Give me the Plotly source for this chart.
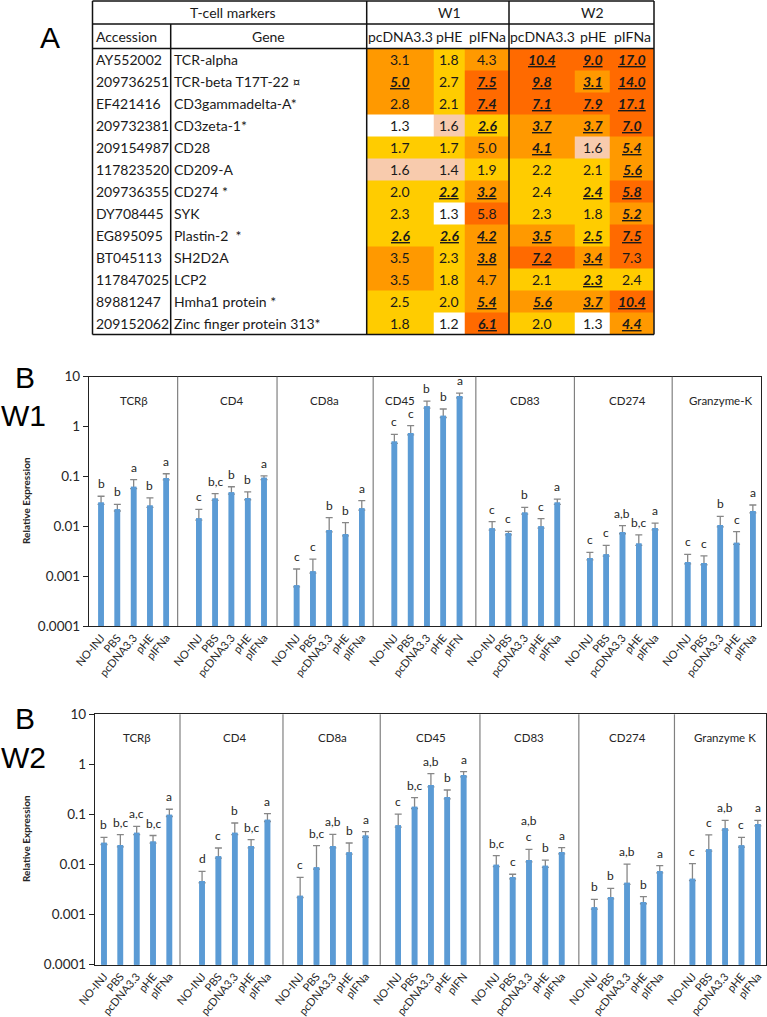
import numpy as np
import plotly.graph_objects as go

W, H = 767, 1017

# ---------------- Panel A : table data ----------------
accessions = ["AY552002", "209736251", "EF421416", "209732381", "209154987", "117823520",
              "209736355", "DY708445", "EG895095", "BT045113", "117847025", "89881247", "209152062"]
genes = ["TCR-alpha", "TCR-beta T17T-22 \u00a4", "CD3gammadelta-A*", "CD3zeta-1*", "CD28", "CD209-A",
         "CD274 *", "SYK", "Plastin-2\u00a0 *", "SH2D2A", "LCP2", "Hmha1 protein *", "Zinc finger protein 313*"]
table_treatments = ["pcDNA3.3", "pHE", "pIFNa", "pcDNA3.3", "pHE", "pIFNa"]
table_weeks = ["W1", "W2"]

w1_pcdna = [3.1, 5.0, 2.8, 1.3, 1.7, 1.6, 2.0, 2.3, 2.6, 3.5, 3.5, 2.5, 1.8]
w1_phe = [1.8, 2.7, 2.1, 1.6, 1.7, 1.4, 2.2, 1.3, 2.6, 2.3, 1.8, 2.0, 1.2]
w1_pifna = [4.3, 7.5, 7.4, 2.6, 5.0, 1.9, 3.2, 5.8, 4.2, 3.8, 4.7, 5.4, 6.1]
w2_pcdna = [10.4, 9.8, 7.1, 3.7, 4.1, 2.2, 2.4, 2.3, 3.5, 7.2, 2.1, 5.6, 2.0]
w2_phe = [9.0, 3.1, 7.9, 3.7, 1.6, 2.1, 2.4, 1.8, 2.5, 3.4, 2.3, 3.7, 1.3]
w2_pifna = [17.0, 14.0, 17.1, 7.0, 5.4, 5.6, 5.8, 5.2, 7.5, 7.3, 2.4, 10.4, 4.4]

# significance flags (bold / italic / underlined in the table)
w1_pcdna_sig = [0, 1, 0, 0, 0, 0, 0, 0, 1, 0, 0, 0, 0]
w1_phe_sig = [0, 0, 0, 0, 0, 0, 1, 0, 1, 0, 0, 0, 0]
w1_pifna_sig = [0, 1, 1, 1, 0, 0, 1, 0, 1, 1, 0, 1, 1]
w2_pcdna_sig = [1, 1, 1, 1, 1, 0, 0, 0, 1, 1, 0, 1, 0]
w2_phe_sig = [1, 1, 1, 1, 0, 0, 1, 0, 1, 1, 1, 1, 0]
w2_pifna_sig = [1, 1, 1, 1, 1, 1, 1, 1, 1, 0, 0, 1, 1]

# ---------------- Panel B : qPCR data ----------------
treatments = ["NO-INJ", "PBS", "pcDNA3.3", "pHE", "pIFNa"]
treatments_cd45 = ["NO-INJ", "PBS", "pcDNA3.3", "pHE", "pIFN"]
genes_w1 = ["TCR\u03b2", "CD4", "CD8a", "CD45", "CD83", "CD274", "Granzyme-K"]
genes_w2 = ["TCR\u03b2", "CD4", "CD8a", "CD45", "CD83", "CD274", "Granzyme K"]

w1_mean = [
    [0.030, 0.022, 0.062, 0.026, 0.093],
    [0.0145, 0.036, 0.048, 0.037, 0.094],
    [0.00066, 0.00125, 0.0084, 0.0070, 0.0229],
    [0.50, 0.74, 2.54, 1.65, 4.1],
    [0.0091, 0.0073, 0.019, 0.010, 0.030],
    [0.00231, 0.00274, 0.0077, 0.0045, 0.0092],
    [0.00192, 0.00184, 0.0106, 0.0047, 0.0202],
]
w1_err = [
    [0.010, 0.0055, 0.024, 0.011, 0.020],
    [0.0073, 0.009, 0.014, 0.012, 0.009],
    [0.00073, 0.00095, 0.0065, 0.0048, 0.0097],
    [0.20, 0.30, 0.71, 0.60, 0.6],
    [0.0033, 0.0006, 0.005, 0.0042, 0.005],
    [0.0007, 0.0014, 0.0026, 0.0022, 0.0024],
    [0.0008, 0.0007, 0.0052, 0.0031, 0.0065],
]
w1_letters = [
    ["b", "b", "a", "b", "a"],
    ["c", "b,c", "b", "b", "a"],
    ["c", "c", "b", "b", "a"],
    ["c", "c", "b", "b", "a"],
    ["c", "c", "b", "c", "a"],
    ["c", "c", "a,b", "b,c", "a"],
    ["c", "c", "b", "c", "a"],
]

w2_mean = [
    [0.0273, 0.0246, 0.0432, 0.029, 0.099],
    [0.0047, 0.0146, 0.0432, 0.0234, 0.0787],
    [0.00239, 0.0088, 0.0234, 0.0175, 0.0378],
    [0.0607, 0.143, 0.388, 0.223, 0.614],
    [0.0099, 0.00564, 0.0123, 0.0095, 0.0178],
    [0.0014, 0.00225, 0.00435, 0.00179, 0.0074],
    [0.0052, 0.0201, 0.0528, 0.0242, 0.0646],
]
w2_err = [
    [0.0076, 0.0149, 0.0148, 0.009, 0.028],
    [0.0026, 0.0068, 0.0243, 0.008, 0.0253],
    [0.00316, 0.015, 0.0166, 0.0094, 0.0075],
    [0.041, 0.074, 0.265, 0.085, 0.102],
    [0.0051, 0.00076, 0.0078, 0.0028, 0.0039],
    [0.00062, 0.0011, 0.00585, 0.00049, 0.0021],
    [0.0052, 0.0189, 0.0235, 0.0107, 0.0117],
]
w2_letters = [
    ["b", "b,c", "a,c", "b,c", "a"],
    ["d", "c", "b", "b,c", "a"],
    ["c", "b,c", "a,b", "b", "a"],
    ["c", "b,c", "a,b", "b", "a"],
    ["b,c", "c", "a,b<br>c", "b", "a"],
    ["b", "b", "a,b", "b", "a"],
    ["c", "c", "a,b", "c", "a"],
]

ytick_vals = [10, 1, 0.1, 0.01, 0.001, 0.0001]
ytick_text = ["10", "1", "0.1", "0.01", "0.001", "0.0001"]

# ---------------- styling ----------------
FONT = "Lato"
BAR_COLOR = "#5B9BD5"
ERR_COLOR = "#878787"
TXT = "#262626"

fig = go.Figure()
annotations = []
shapes = []


def add_chart(xa, ya, genes_list, means, errs, letters, dividers, title_shift):
    xref = xa
    yref = ya
    xs, ys, es, em, tv, tt = [], [], [], [], [], []
    for g, gname in enumerate(genes_list):
        names = treatments_cd45 if gname == "CD45" else treatments
        for t in range(5):
            pos = g * 6 + t
            xs.append(pos)
            ys.append(means[g][t])
            es.append(errs[g][t])
            em.append(means[g][t] * 0.08)
            tv.append(pos)
            tt.append(names[t])
            top = means[g][t] + errs[g][t]
            annotations.append(dict(
                x=pos, y=np.log10(top), xref=xref, yref=yref, text=letters[g][t],
                showarrow=False, yanchor="bottom", yshift=3,
                font=dict(family=FONT, size=12, color=TXT)))
        annotations.append(dict(
            x=g * 6 + 2 + title_shift[g], y=0.94, xref=xref, yref=yref + " domain", text=gname,
            showarrow=False, font=dict(family=FONT, size=11.5, color=TXT)))
    # bars carrying upward error bars
    fig.add_trace(go.Bar(
        x=xs, y=ys, width=0.34, marker=dict(color=BAR_COLOR, line=dict(width=0)),
        error_y=dict(type="data", symmetric=False, array=es, arrayminus=em,
                     color=ERR_COLOR, thickness=1.3, width=3.5),
        xaxis=xa, yaxis=ya, hoverinfo="skip", showlegend=False))
    # same bars again to hide the lower end of the error bars
    fig.add_trace(go.Bar(
        x=xs, y=ys, width=0.34, marker=dict(color=BAR_COLOR, line=dict(width=0)),
        xaxis=xa, yaxis=ya, hoverinfo="skip", showlegend=False))
    for d in dividers:
        shapes.append(dict(type="line", xref=xref, yref=yref + " domain",
                           x0=d, x1=d, y0=0, y1=1,
                           line=dict(color="#808080", width=1.2)))
    return tv, tt


tv1, tt1 = add_chart("x", "y", genes_w1, w1_mean, w1_err, w1_letters,
                     [4.7, 10.8, 16.7, 23.0, 29.05, 35.05],
                     [0, 0, -0.3, -1.65, 0, 0.3, 0])
tv2, tt2 = add_chart("x2", "y2", genes_w2, w2_mean, w2_err, w2_letters,
                     [4.65, 10.95, 16.9, 23.0, 29.05, 34.9],
                     [0, 0, 0, 0, 0, 0, 0])


def xaxis_style(domain, rng, tv, tt, anchor):
    return dict(domain=domain, range=rng, anchor=anchor, tickmode="array",
                tickvals=tv, ticktext=tt, tickangle=-50, ticks="",
                tickfont=dict(family=FONT, size=11, color=TXT),
                showline=True, linecolor="#222222", linewidth=1.3, mirror=True,
                showgrid=False, zeroline=False, fixedrange=True, automargin=False)


def yaxis_style(domain, anchor):
    return dict(domain=domain, anchor=anchor, type="log", range=[-4, 1],
                tickmode="array", tickvals=ytick_vals, ticktext=ytick_text,
                ticks="outside", ticklen=5, tickcolor="#222222", tickwidth=1,
                tickfont=dict(family=FONT, size=13.5, color=TXT),
                showline=True, linecolor="#222222", linewidth=1.3, mirror=True,
                showgrid=False, zeroline=False, fixedrange=True, automargin=False)


# ---------------- Panel A table (pixel-space axis) ----------------
col_edges = [366.7, 433.3, 465.0, 509.0, 575.0, 610.0, 654.0]
tbl_left, col_gene_x = 92.5, 170.7
tbl_top, head1_bot, head2_bot, row_h = 1.0, 24.0, 48.5, 22.0
row_edges = [head2_bot + i * row_h for i in range(len(accessions) + 1)]
tbl_bot = row_edges[-1]

cols_vals = [w1_pcdna, w1_phe, w1_pifna, w2_pcdna, w2_phe, w2_pifna]
cols_sig = [w1_pcdna_sig, w1_phe_sig, w1_pifna_sig, w2_pcdna_sig, w2_phe_sig, w2_pifna_sig]


def level(v):
    if v < 1.35:
        return 0
    if v < 1.7:
        return 1
    if v < 2.75:
        return 2
    if v < 5.75:
        return 3
    return 4


z = [[level(cols_vals[c][r]) for c in range(6)] for r in range(len(accessions))]
cs = [[0, "#FFFFFF"], [0.2, "#FFFFFF"], [0.2, "#F8CBAD"], [0.4, "#F8CBAD"],
      [0.4, "#FFCC00"], [0.6, "#FFCC00"], [0.6, "#FF9900"], [0.8, "#FF9900"],
      [0.8, "#FF6A00"], [1.0, "#FF6A00"]]
fig.add_trace(go.Heatmap(x=col_edges, y=row_edges, z=z, colorscale=cs, zmin=-0.5, zmax=4.5,
                         showscale=False, xaxis="x3", yaxis="y3", hoverinfo="skip"))

TFONT = dict(family=FONT, size=14, color="#1a1a1a")
for r in range(len(accessions)):
    yc = head2_bot + (r + 0.5) * row_h
    annotations.append(dict(x=tbl_left + 1.5, y=yc, xref="x3", yref="y3", text=accessions[r],
                            xanchor="left", showarrow=False, font=TFONT))
    annotations.append(dict(x=col_gene_x + 1.5, y=yc, xref="x3", yref="y3", text=genes[r],
                            xanchor="left", showarrow=False, font=TFONT))
    for c in range(6):
        v = cols_vals[c][r]
        s = f"{v:.1f}"
        if cols_sig[c][r]:
            s = f"<b><i><u>{s}</u></i></b>"
        xc = (col_edges[c] + col_edges[c + 1]) / 2
        annotations.append(dict(x=xc, y=yc, xref="x3", yref="y3", text=s,
                                showarrow=False, font=TFONT))

hy1 = (tbl_top + head1_bot) / 2
hy2 = (head1_bot + head2_bot) / 2
annotations += [
    dict(x=233, y=hy1, xref="x3", yref="y3", text="T-cell markers", showarrow=False, font=TFONT),
    dict(x=(col_edges[1] + col_edges[2]) / 2, y=hy1, xref="x3", yref="y3", text=table_weeks[0],
         showarrow=False, font=TFONT),
    dict(x=(col_edges[4] + col_edges[5]) / 2, y=hy1, xref="x3", yref="y3", text=table_weeks[1],
         showarrow=False, font=TFONT),
    dict(x=tbl_left + 1.5, y=hy2, xref="x3", yref="y3", text="Accession", xanchor="left",
         showarrow=False, font=TFONT),
    dict(x=(col_gene_x + col_edges[0]) / 2, y=hy2, xref="x3", yref="y3", text="Gene",
         showarrow=False, font=TFONT),
]
for c in range(6):
    annotations.append(dict(x=(col_edges[c] + col_edges[c + 1]) / 2, y=hy2, xref="x3", yref="y3",
                            text=table_treatments[c], showarrow=False, font=TFONT))

LW = dict(color="#111111", width=1.5)
tbl_lines = [
    (tbl_left, tbl_top, col_edges[-1], tbl_top),
    (tbl_left, tbl_bot, col_edges[-1], tbl_bot),
    (tbl_left, tbl_top, tbl_left, tbl_bot),
    (col_edges[-1], tbl_top, col_edges[-1], tbl_bot),
    (tbl_left, head1_bot, col_edges[-1], head1_bot),
    (tbl_left, head2_bot, col_edges[-1], head2_bot),
    (col_gene_x, head1_bot, col_gene_x, tbl_bot),
    (col_edges[0], tbl_top, col_edges[0], tbl_bot),
    (col_edges[3], tbl_top, col_edges[3], tbl_bot),
]
for x0, y0, x1, y1 in tbl_lines:
    shapes.append(dict(type="line", xref="x3", yref="y3", x0=x0, y0=y0, x1=x1, y1=y1, line=LW))

# ---------------- big panel labels & y titles ----------------
BIG = dict(family="Liberation Sans", size=30, color="#000000")
for txt, px, py in [("A", 50, 37), ("B", 25, 377), ("W1", 23, 415), ("B", 25, 718), ("W2", 23, 757)]:
    annotations.append(dict(x=px, y=py, xref="x3", yref="y3", text=txt, showarrow=False, font=BIG))
for py in [501, 839]:
    annotations.append(dict(x=26, y=py, xref="x3", yref="y3", text="<b>Relative Expression</b>",
                            textangle=-90, showarrow=False,
                            font=dict(family=FONT, size=10, color=TXT)))

fig.update_layout(
    template="none",
    width=W, height=H, margin=dict(l=0, r=0, t=0, b=0, pad=0, autoexpand=False),
    paper_bgcolor="#FFFFFF", plot_bgcolor="rgba(0,0,0,0)",
    barmode="overlay", showlegend=False,
    xaxis=xaxis_style([89 / W, 761 / W], [-0.74, 40.5], tv1, tt1, "y"),
    yaxis=yaxis_style([1 - 626 / H, 1 - 376.7 / H], "x"),
    xaxis2=xaxis_style([95 / W, 766 / W], [-0.55, 40.5], tv2, tt2, "y2"),
    yaxis2=yaxis_style([1 - 964.7 / H, 1 - 714.3 / H], "x2"),
    xaxis3=dict(domain=[0, 1], range=[0, W], visible=False, anchor="y3", fixedrange=True,
                automargin=False),
    yaxis3=dict(domain=[0, 1], range=[H, 0], visible=False, anchor="x3", fixedrange=True,
                automargin=False),
    annotations=annotations, shapes=shapes,
)

fig.write_html("out.html", config={"displayModeBar": False},
               post_script="document.body.style.margin='0px';document.body.style.overflow='hidden';")
